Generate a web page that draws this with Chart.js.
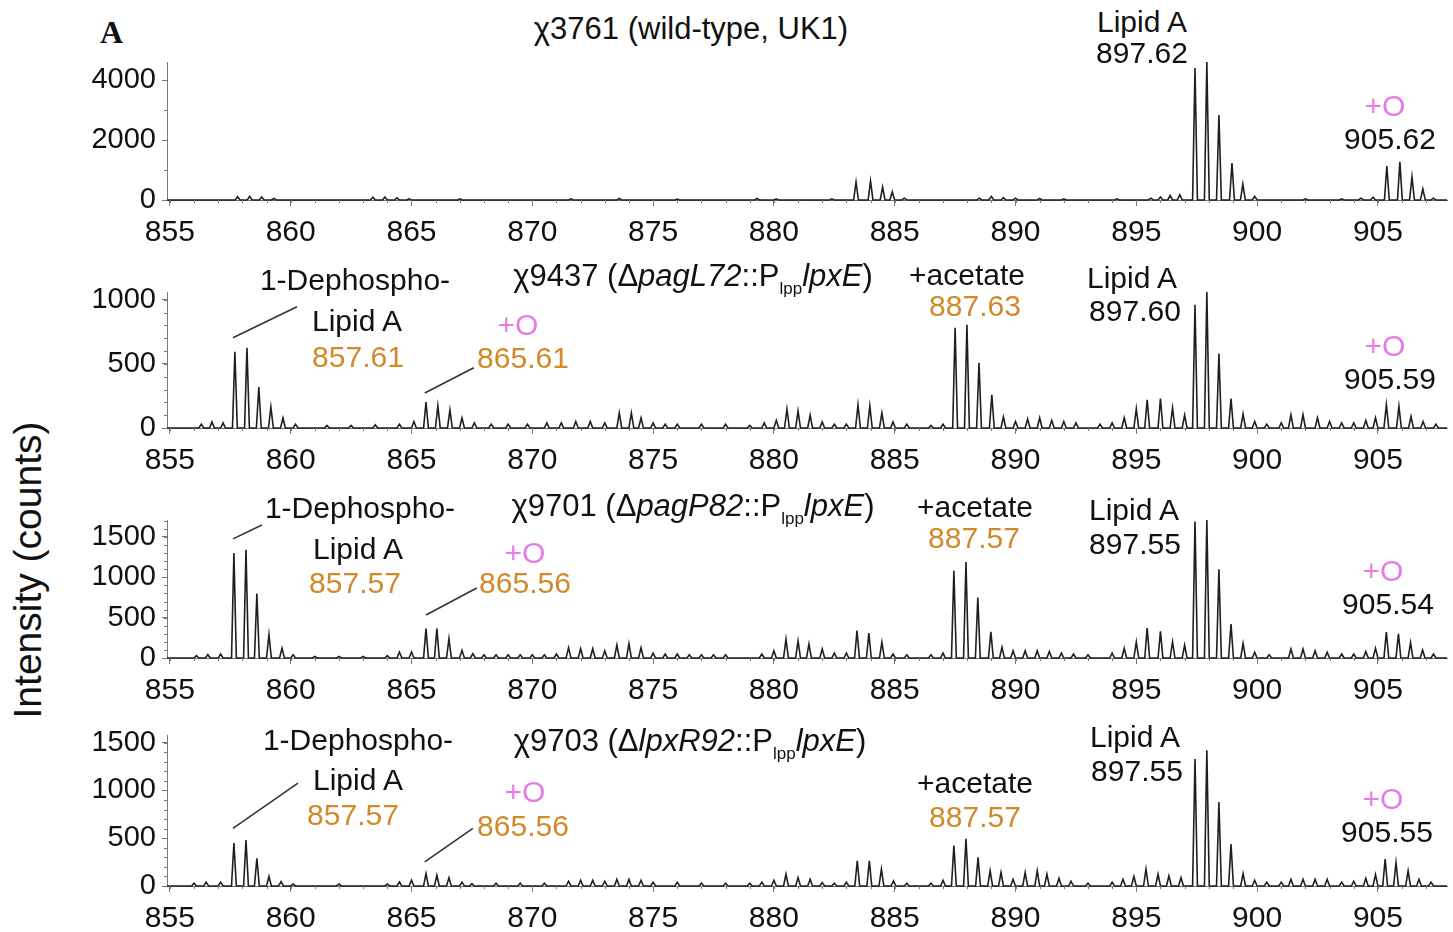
<!DOCTYPE html>
<html><head><meta charset="utf-8">
<script src="https://cdn.jsdelivr.net/npm/chart.js@4.4.1/dist/chart.umd.min.js"></script>
<style>
html,body{margin:0;padding:0;background:#fff;width:1453px;height:932px;overflow:hidden;font-family:"Liberation Sans",Arial,Helvetica,sans-serif;}
canvas{position:absolute;left:0;}
.t{position:absolute;font-size:30px;color:#111;white-space:nowrap;transform:translate(-50%,-50%);line-height:1;z-index:5;}
.tt{font-size:31px}
.or{color:#d08a2a}
.pk{color:#e57ce6}
.sb{font-size:17px;position:relative;top:8px}
i{font-style:italic}
#ylab{position:absolute;left:28px;top:570px;transform:translate(-50%,-50%) rotate(-90deg);font-size:39px;color:#111;white-space:nowrap;}
#A{position:absolute;left:100px;top:14px;font-family:"Liberation Serif","Times New Roman",serif;font-weight:bold;font-size:32px;color:#111;}
</style>
</head><body>
<div id="A">A</div>
<div id="ylab">Intensity (counts)</div>
<div id="wrap"></div>
<script>
// ---- data (m/z of peak apex, intensity in counts) ----
const xTickLabels = [855, 860, 865, 870, 875, 880, 885, 890, 895, 900, 905];
const yTicks1 = [0, 2000, 4000];
const yTicks2 = [0, 500, 1000];
const yTicks3 = [0, 500, 1000, 1500];
const yTicks4 = [0, 500, 1000, 1500];

const titles = ["χ3761 (wild-type, UK1)", "χ9437 (ΔpagL72::PlpplpxE)", "χ9701 (ΔpagP82::PlpplpxE)", "χ9703 (ΔlpxR92::PlpplpxE)"];

const mz1  = [857.8,858.3,858.8,859.3,863.4,863.9,864.4,864.9,867.0,871.6,873.6,876.0,879.3,880.1,882.4,883.4,884.0,884.5,884.9,885.4,888.5,889.0,889.5,890.0,891.0,892.0,894.2,895.6,896.0,896.4,896.8,897.43,897.92,898.42,898.96,899.41,899.9,902.0,903.5,904.3,904.8,905.37,905.91,906.41,906.86,907.3];
const int1 = [110,120,100,50,90,100,70,40,40,40,50,30,50,40,40,600,630,430,270,60,60,120,80,60,50,40,40,60,100,150,180,4400,4600,2830,1230,530,120,40,40,60,90,1130,1270,770,370,60];

const mz2  = [856.3,856.74,857.2,857.69,858.19,858.68,859.18,859.68,860.2,861.5,862.5,863.5,864.5,865.1,865.6,866.09,866.59,867.09,867.6,868.3,869.0,869.8,870.6,871.2,871.8,872.4,873.0,873.6,874.1,874.5,875.0,875.5,876.0,877.0,878.0,879.0,879.6,880.1,880.54,881.0,881.5,882.0,882.5,883.0,883.48,883.97,884.47,884.93,885.5,886.5,887.0,887.5,887.99,888.49,889.02,889.5,890.0,890.5,891.0,891.5,892.0,892.5,893.5,894.0,894.5,895.0,895.45,896.0,896.5,897.0,897.43,897.92,898.42,898.92,899.42,899.9,900.4,901.0,901.4,901.9,902.5,903.0,903.5,904.0,904.5,904.9,905.35,905.87,906.37,906.87,907.4];
const int2 = [30,47,40,594,625,320,164,78,30,20,20,25,30,50,203,172,140,78,40,30,30,30,40,40,50,50,40,117,117,78,40,30,30,30,30,20,40,60,148,133,101,47,30,30,180,172,117,47,30,20,30,781,804,508,258,86,50,70,80,60,50,40,30,40,80,150,220,230,156,100,960,1060,580,230,110,50,30,40,104,104,80,50,40,40,60,80,182,169,91,50,30];

const mz3  = [856.1,856.57,857.1,857.65,858.15,858.6,859.1,859.64,860.1,861.0,862.0,863.0,864.0,864.5,865.0,865.6,866.05,866.55,867.09,867.54,868.0,868.5,869.0,869.5,870.0,870.5,871.0,871.5,872.0,872.5,873.0,873.5,874.0,874.5,875.0,875.5,876.0,876.5,877.0,877.5,878.0,879.5,880.0,880.5,881.0,881.45,882.0,882.5,883.0,883.44,883.93,884.47,884.93,885.5,886.5,887.0,887.45,887.95,888.44,888.98,889.44,889.9,890.4,890.9,891.4,891.9,892.4,893.0,894.0,894.5,895.0,895.45,896.0,896.5,897.0,897.43,897.92,898.42,898.92,899.42,899.9,900.5,901.4,901.9,902.4,902.9,903.5,904.0,904.5,904.9,905.35,905.85,906.35,906.85,907.3];
const int3 = [30,41,50,1300,1340,800,290,120,40,20,20,20,30,74,74,364,364,240,95,54,40,40,40,40,40,40,50,128,115,115,90,160,178,128,60,50,50,40,40,40,40,50,90,235,211,174,111,60,60,339,310,194,50,40,40,60,1080,1190,750,325,132,90,90,90,80,60,50,40,60,120,200,370,330,200,160,1690,1710,1100,420,180,70,40,110,110,90,70,50,50,80,120,320,300,190,100,50];

const mz4  = [856.0,856.5,857.1,857.65,858.15,858.6,859.1,859.6,860.1,862.0,864.0,864.5,865.0,865.6,866.05,866.55,867.09,867.5,868.5,869.5,870.5,871.5,872.0,872.5,873.0,873.5,874.0,874.5,875.0,876.0,877.0,878.0,879.0,879.5,880.0,880.5,881.0,881.5,882.0,882.5,883.0,883.45,883.95,884.45,884.95,885.5,886.5,887.0,887.45,887.95,888.45,888.95,889.4,889.9,890.4,890.9,891.3,891.8,892.3,893.0,894.0,894.45,894.9,895.4,895.9,896.35,896.85,897.43,897.92,898.42,898.92,899.42,899.9,900.4,901.0,901.4,901.9,902.4,902.9,903.5,904.0,904.5,904.9,905.3,905.75,906.25,906.7,907.2];
const int4 = [30,40,40,450,480,290,100,45,20,20,20,42,60,130,113,85,40,25,30,30,30,50,60,60,50,70,70,60,40,40,30,30,30,40,60,123,88,70,35,30,40,264,264,176,53,30,30,60,422,493,299,158,141,70,141,158,123,80,50,30,40,70,100,176,123,106,88,1330,1420,880,440,130,60,40,40,70,70,70,70,40,50,80,120,282,246,158,70,40];

// ---- layout / style (not data) ----
const FONT = '"Liberation Sans", Arial, Helvetica, sans-serif';
const XMIN = 854.88, XMAX = 907.86, HW = 0.1;
const panels = [
  {mz: mz1, it: int1, yTicks: yTicks1, ymax: 4600, top: 62, bottom: 200, yMinor: 1000},
  {mz: mz2, it: int2, yTicks: yTicks2, ymax: 1060, top: 292, bottom: 428, yMinor: 100},
  {mz: mz3, it: int3, yTicks: yTicks3, ymax: 1710, top: 520, bottom: 658, yMinor: 100},
  {mz: mz4, it: int4, yTicks: yTicks4, ymax: 1580, top: 735, bottom: 886, yMinor: 100}
];
// leader lines in data coordinates [x1,y1,x2,y2]
const leaders = [
  [],
  [[857.61,703,860.26,945],[865.55,273,867.58,469]],
  [[857.61,1476,858.81,1649],[865.6,533,867.7,868]],
  [[857.61,602,860.3,1077],[865.55,253,867.54,602]]
];

const extras = {
  id: 'extras',
  afterDraw(chart, args, opts) {
    const ctx = chart.ctx, xs = chart.scales.x, ys = chart.scales.y;
    ctx.save();
    ctx.strokeStyle = '#777'; ctx.lineWidth = 1;
    const yb = ys.getPixelForValue(0);
    for (let v = Math.ceil(XMIN); v <= XMAX; v++) {
      const px = Math.round(xs.getPixelForValue(v)) + 0.5;
      ctx.beginPath(); ctx.moveTo(px, yb); ctx.lineTo(px, yb + 3); ctx.stroke();
    }
    const xl = xs.left;
    for (let v = 0; v <= opts.ymax; v += opts.yMinor) {
      const py = Math.round(ys.getPixelForValue(v)) + 0.5;
      ctx.beginPath(); ctx.moveTo(xl, py); ctx.lineTo(xl - 3, py); ctx.stroke();
    }
    ctx.strokeStyle = '#333'; ctx.lineWidth = 1.6;
    (opts.lines || []).forEach(l => {
      ctx.beginPath();
      ctx.moveTo(xs.getPixelForValue(l[0]), ys.getPixelForValue(l[1]));
      ctx.lineTo(xs.getPixelForValue(l[2]), ys.getPixelForValue(l[3]));
      ctx.stroke();
    });
    ctx.restore();
  }
};

const XAXH = 48;
panels.forEach((p, i) => {
  const cTop = p.top - 8;
  const h = (p.bottom - cTop) + XAXH;
  const cv = document.createElement('canvas');
  cv.width = 1453; cv.height = h;
  cv.style.top = cTop + 'px'; cv.style.width = '1453px'; cv.style.height = h + 'px';
  document.getElementById('wrap').appendChild(cv);
  const pts = [{x: XMIN, y: 0}];
  p.mz.forEach((m, k) => { pts.push({x: m - HW, y: 0}, {x: m, y: p.it[k]}, {x: m + HW, y: 0}); });
  pts.push({x: XMAX, y: 0});
  new Chart(cv.getContext('2d'), {
    type: 'line',
    data: {datasets: [{data: pts, borderColor: '#1e1e1e', borderWidth: 1.6, pointRadius: 0, tension: 0, fill: false, clip: false}]},
    options: {
      responsive: false, animation: false, events: [],
      layout: {padding: {top: 8, right: 6, left: 0, bottom: 0}},
      plugins: {legend: {display: false}, tooltip: {enabled: false},
        extras: {lines: leaders[i], ymax: p.ymax, yMinor: p.yMinor}},
      scales: {
        x: {type: 'linear', min: XMIN, max: XMAX,
          afterBuildTicks: s => { s.ticks = xTickLabels.map(v => ({value: v})); },
          afterFit: s => { s.height = XAXH; },
          ticks: {font: {size: 30, family: FONT}, color: '#111', padding: 9, maxRotation: 0, autoSkip: false,
            callback: v => String(v)},
          grid: {drawOnChartArea: false, drawTicks: true, tickLength: 6, color: '#777'},
          border: {display: true, color: '#777', width: 1}},
        y: {type: 'linear', min: 0, max: p.ymax,
          afterBuildTicks: s => { s.ticks = p.yTicks.map(v => ({value: v})); },
          afterFit: s => { s.width = 167; s.paddingTop = 0; s.paddingBottom = 0; },
          ticks: {font: {size: 29, family: FONT}, color: '#111', padding: 6, callback: v => String(v)},
          grid: {drawOnChartArea: false, drawTicks: true, tickLength: 5, color: '#777'},
          border: {display: true, color: '#777', width: 1}}
      }
    },
    plugins: [extras]
  });
});

// ---- annotation texts ----
const notes = [
  ['Lipid A', 1142, 22, ''], ['897.62', 1142, 53, ''], ['+O', 1385, 106, 'pk'], ['905.62', 1390, 139, ''],
  ['1-Dephospho-', 355, 280, ''], ['Lipid A', 357, 321, ''], ['857.61', 358, 357, 'or'],
  ['+O', 518, 325, 'pk'], ['865.61', 523, 358, 'or'],
  ['+acetate', 967, 275, ''], ['887.63', 975, 306, 'or'], ['Lipid A', 1132, 278, ''], ['897.60', 1135, 311, ''],
  ['+O', 1385, 346, 'pk'], ['905.59', 1390, 379, ''],
  ['1-Dephospho-', 360, 508, ''], ['Lipid A', 358, 549, ''], ['857.57', 355, 583, 'or'],
  ['+O', 525, 553, 'pk'], ['865.56', 525, 583, 'or'],
  ['+acetate', 975, 507, ''], ['887.57', 974, 538, 'or'], ['Lipid A', 1134, 510, ''], ['897.55', 1135, 544, ''],
  ['+O', 1383, 571, 'pk'], ['905.54', 1388, 604, ''],
  ['1-Dephospho-', 358, 740, ''], ['Lipid A', 358, 780, ''], ['857.57', 353, 815, 'or'],
  ['+O', 525, 792, 'pk'], ['865.56', 523, 826, 'or'],
  ['+acetate', 975, 783, ''], ['887.57', 975, 817, 'or'], ['Lipid A', 1135, 737, ''], ['897.55', 1137, 771, ''],
  ['+O', 1383, 799, 'pk'], ['905.55', 1387, 832, '']
];
notes.forEach(n => {
  const d = document.createElement('div');
  d.className = 't ' + n[3];
  d.textContent = n[0];
  d.style.left = n[1] + 'px'; d.style.top = n[2] + 'px';
  document.body.appendChild(d);
});
const titlePos = [[691, 28], [693, 275], [693, 505], [690, 740]];
const titleHTML = [
  'χ3761 (wild-type, UK1)',
  'χ9437 (Δ<i>pagL72</i>::P<span class="sb">lpp</span><i>lpxE</i>)',
  'χ9701 (Δ<i>pagP82</i>::P<span class="sb">lpp</span><i>lpxE</i>)',
  'χ9703 (Δ<i>lpxR92</i>::P<span class="sb">lpp</span><i>lpxE</i>)'
];
titleHTML.forEach((h, i) => {
  const d = document.createElement('div');
  d.className = 't tt';
  d.innerHTML = h;
  d.title = titles[i];
  d.style.left = titlePos[i][0] + 'px'; d.style.top = titlePos[i][1] + 'px';
  document.body.appendChild(d);
});
</script>
</body></html>
